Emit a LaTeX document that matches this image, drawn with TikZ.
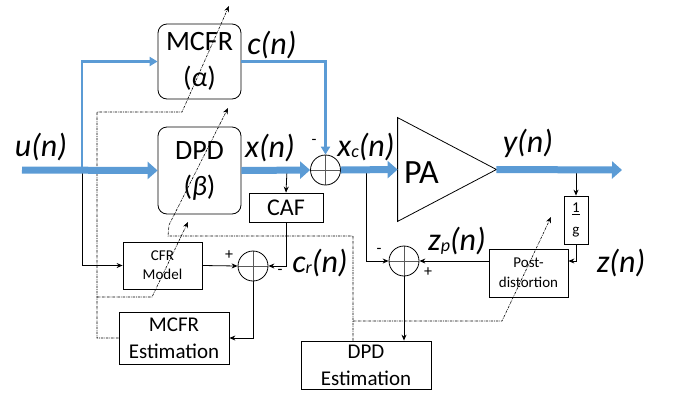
\documentclass[tikz,border=0pt]{standalone}
\usepackage{fontspec}
\setmainfont{Carlito}
\usetikzlibrary{arrows.meta}
\definecolor{sigblue}{RGB}{91,155,213}
\newcommand{\sbs}[1]{\raisebox{-1.5pt}{\fontsize{18}{18}\selectfont #1}}

\begin{document}
\begin{tikzpicture}[x=1pt, y=-1pt, line width=0.8pt, >={Stealth[length=6pt,width=5pt]},
  blk/.style={draw, inner sep=0pt, align=center},
  rblk/.style={blk, rounded corners=9pt},
  sumc/.style={draw, circle, minimum size=30pt, inner sep=0pt,
    path picture={\draw[gray!70!black] (path picture bounding box.north) -- (path picture bounding box.south)
      (path picture bounding box.west) -- (path picture bounding box.east);}},
  sig/.style={sigblue, line width=7pt, -{Triangle[length=10pt,width=17pt]}},
  thinsig/.style={sigblue, line width=2.6pt, -{Triangle[length=8pt,width=9pt]}},
  ctl/.style={line width=0.6pt, dash pattern=on 2.5pt off 1pt on 0.6pt off 1pt},
  lbl/.style={font=\fontsize{32}{32}\selectfont\itshape},
  sgn/.style={font=\fontsize{16}{16}\selectfont}]
\useasboundingbox (0,0) rectangle (676,397);

\node[rblk, minimum width=83pt, minimum height=75pt, font=\fontsize{28}{36}\selectfont] (mcfr) at (199.5,61.5) {MCFR\\(\textit{α})};
\node[rblk, minimum width=83pt, minimum height=87pt, font=\fontsize{28}{36}\selectfont] (dpd) at (199.5,170.5) {DPD\\(\textit{β})};
\node[sumc] (sum1) at (325.5,170) {};
\node[minimum width=98pt, minimum height=103pt, inner sep=0pt] (pa) at (447,169.5) {};
\draw (pa.north west) -- (pa.east) -- (pa.south west) -- cycle;
\node[font=\fontsize{34}{34}\selectfont, anchor=west, inner sep=0pt] (patext) at ([xshift=6pt,yshift=-3pt]pa.west) {PA};
\node[blk, minimum width=74pt, minimum height=29pt, font=\fontsize{24}{24}\selectfont] (caf) at (286,207.5) {CAF};
\node[blk, minimum width=79pt, minimum height=47pt, font=\fontsize{15}{19}\selectfont] (cfr) at (162.5,265.5) {CFR\\Model};
\node[sumc] (sum3) at (253,266) {};
\node[blk, minimum width=110pt, minimum height=52pt, font=\fontsize{21}{27}\selectfont] (mest) at (174,338) {MCFR\\Estimation};
\node[blk, minimum width=130pt, minimum height=48pt, font=\fontsize{21}{27}\selectfont] (dest) at (366,365) {DPD\\Estimation};
\node[sumc] (sum2) at (404,261) {};
\node[blk, minimum width=79pt, minimum height=48pt, font=\fontsize{15}{20}\selectfont] (post) at (528.5,273) {Post-\\distortion};
\node[blk, minimum width=24pt, minimum height=48pt, font=\fontsize{15}{22}\selectfont] (gain) at (576,220) {\underline{1}\\g};

\coordinate (uin) at (22,170);
\coordinate (usplit) at (82,170);
\coordinate (xtap) at (287,170);
\coordinate (xctap) at (366,170);
\coordinate (ytap) at (576,170);
\coordinate (yout) at (622,170);
\coordinate (atip) at (229,6);
\coordinate (btip) at (228,108);
\coordinate (ctip) at (188,222);
\coordinate (ptip) at (551,217);

\draw[->] (xtap) -- (caf.north);
\draw[->] (caf.south) |- (sum3.east);
\draw[->] (usplit) |- (cfr.west);
\draw[->] (cfr.east) -- (sum3.west);
\draw[->] (sum3.south) |- (mest.east);
\draw[->] (xctap) |- (sum2.west);
\draw[->] (post.west |- sum2.east) -- (sum2.east);
\draw[->] (ytap) -- (gain.north);
\draw[->] (gain.south) |- ([yshift=12pt]post.east);
\draw[->] (sum2.south) -- (sum2.south |- dest.north);

\draw[ctl,->] (mest.west) -| (97,112) -- (182,112) -- (atip);
\draw[ctl,->] (97,297) -- (152,297) -- (ctip);
\draw[ctl,->] ([xshift=-13pt]dest.north) -- (353,236) -- (168,236) -- (169,225) -- (btip);
\draw[ctl,->] (353,321) -- (502,321) -- (ptip);

\draw[thinsig] (usplit) |- (mcfr.west);
\draw[thinsig] (mcfr.east) -| (sum1.north);
\draw[sig] (uin) -- (dpd.west);
\draw[sig] (dpd.east) -- (sum1.west);
\draw[sig] (sum1.east) -- (pa.west);
\draw[sig] (pa.east) -- (yout);

\node[lbl] (ulbl) at (41,147) {u(n)};
\node[lbl] (clbl) at (272,45) {c(n)};
\node[lbl] (xlbl) at (270,148) {x(n)};
\node[lbl] (xclbl) at (366,147) {x\sbs{c}(n)};
\node[lbl] (ylbl) at (528,143) {y(n)};
\node[lbl] (zlbl) at (621,263) {z(n)};
\node[lbl] (zplbl) at (457,241) {z\sbs{p}(n)};
\node[lbl] (crlbl) at (320,263) {c\sbs{r}(n)};

\node[sgn] (s1m) at (314,142) {-};
\node[sgn] (s3p) at (229,255) {+};
\node[sgn] (s3m) at (280,272) {-};
\node[sgn] (s2m) at (379,251) {-};
\node[sgn] (s2p) at (428,272) {+};
\end{tikzpicture}
\end{document}
